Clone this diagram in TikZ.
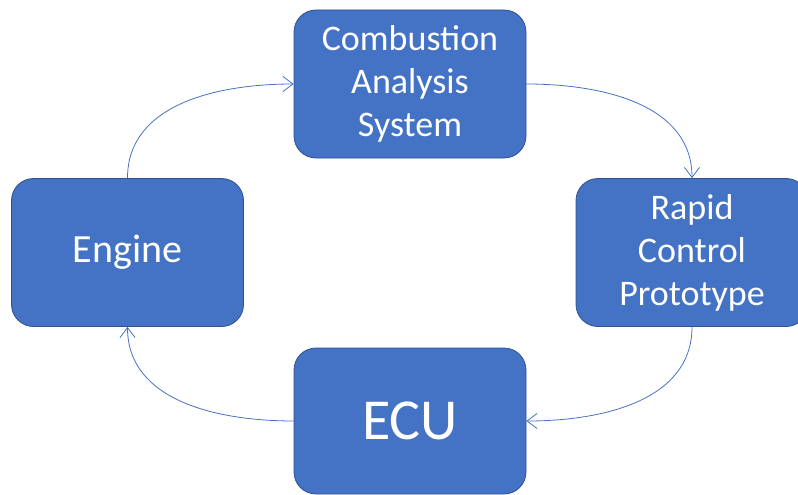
\documentclass[tikz,border=0pt]{standalone}
\usepackage{fontspec}
\setmainfont{Carlito}
\usepackage{tikz}
\usetikzlibrary{arrows.meta,positioning}

\definecolor{boxblue}{HTML}{4472C4}
\definecolor{boxedge}{HTML}{2F528F}

\begin{document}
\begin{tikzpicture}[x=1pt,y=1pt,
    block/.style={rectangle, rounded corners=22pt, fill=boxblue, draw=boxedge,
      line width=0.8pt, minimum width=232pt, minimum height=148pt,
      inner sep=0pt, align=center, text=white,
      font=\fontsize{36}{43}\selectfont},
    flow/.style={draw=boxblue, line width=0.8pt,
      -{Straight Barb[length=10pt,width=15pt]}}]
    \clip (0,0) rectangle (798,-495);
    % the four stages
    \node[block] (CAS) at (410,-84) {Combustion\\ Analysis\\ System};
    \node[block, font=\fontsize{40}{48}\selectfont] (Eng) at (127.5,-252.5) {Engine};
    \node[block] (RCP) at (692,-252.5) {Rapid\\ Control\\ Prototype};
    \node[block, minimum height=146pt, font=\fontsize{58}{64}\selectfont]
      (ECU) at (410,-421) {ECU};
    % the loop
    \draw[flow] (Eng.north) to[out=90,in=180] (CAS.west);
    \draw[flow] (CAS.east) to[out=0,in=90] (RCP.north);
    \draw[flow] (RCP.south) to[out=-90,in=0] (ECU.east);
    \draw[flow] (ECU.west) to[out=180,in=-90] (Eng.south);
\end{tikzpicture}
\end{document}
